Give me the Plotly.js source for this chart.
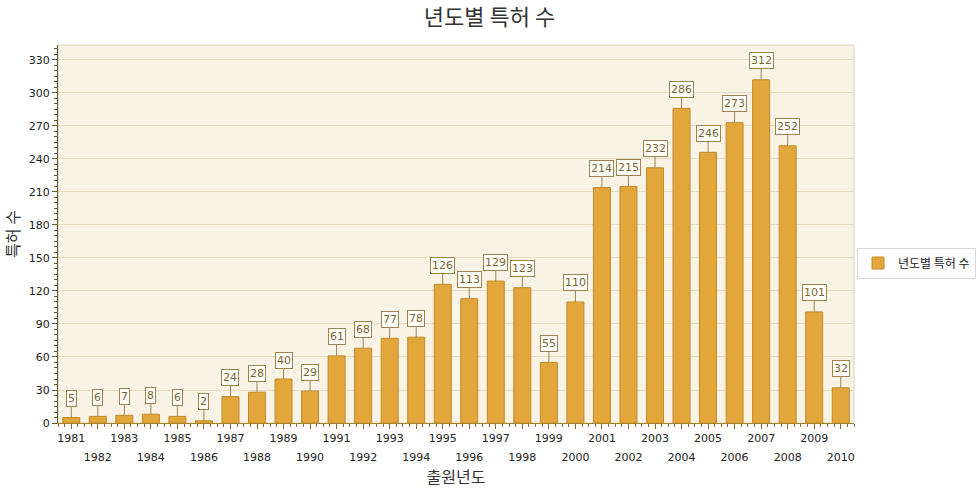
<!DOCTYPE html>
<html>
<head>
<meta charset="utf-8">
<script src="https://cdn.plot.ly/plotly-3.0.1.min.js"></script>
<style>html,body{margin:0;padding:0;background:#fff;}#chart{width:979px;height:493px;}</style>
</head>
<body>
<div id="chart"></div>
<script>
const years = [1981,1982,1983,1984,1985,1986,1987,1988,1989,1990,1991,1992,1993,1994,1995,1996,1997,1998,1999,2000,2001,2002,2003,2004,2005,2006,2007,2008,2009,2010];
const counts = [5,6,7,8,6,2,24,28,40,29,61,68,77,78,126,113,129,123,55,110,214,215,232,286,246,273,312,252,101,32];
const oddYears = years.filter((y, i) => i % 2 === 0);
const evenYears = years.filter((y, i) => i % 2 === 1);
const seriesName = '년도별 특허 수';

const FONT = 'Tahoma, "DejaVu Sans", "Noto Sans CJK KR", sans-serif';
const KFONT = '"Noto Sans CJK KR", "Liberation Sans", sans-serif';

const trace = {
  type: 'bar',
  x: years,
  y: counts,
  name: seriesName,
  width: 0.64,
  marker: {color: '#e2a63a', line: {color: '#c08a2c', width: 1}},
  hoverinfo: 'x+y'
};

// invisible helper trace so the second (even-year label) axis is drawn
const helper = {
  type: 'scatter', mode: 'none', x: years, y: counts,
  xaxis: 'x2', yaxis: 'y', showlegend: false, hoverinfo: 'skip'
};

const annotations = years.map((y, i) => ({
  x: y, y: counts[i], xref: 'x', yref: 'y',
  text: String(counts[i]),
  showarrow: true, arrowhead: 0, arrowwidth: 1, arrowcolor: '#9c8450',
  ax: 0, ay: -19,
  bgcolor: '#fffef8', bordercolor: '#9c8450', borderwidth: 1, borderpad: 1,
  font: {family: FONT, size: 11, color: '#7a6638'}
}));

const axCommon = {
  range: [1980.5, 2010.5],
  tickmode: 'array',
  tickangle: 0, automargin: false,
  ticks: 'outside', ticklen: 5, tickcolor: '#8a6a20',
  showgrid: false, zeroline: false,
  tickfont: {family: FONT, size: 11, color: '#222'}
};

const layout = {
  width: 979, height: 493,
  margin: {l: 58, r: 125, t: 45, b: 70, autoexpand: false},
  paper_bgcolor: '#ffffff',
  plot_bgcolor: '#f9f3e5',
  font: {family: FONT, size: 11, color: '#222'},
  title: {text: seriesName, x: 0.5, xanchor: 'center', y: 0.965, yanchor: 'middle',
          font: {family: KFONT, size: 22, color: '#333'}},
  xaxis: Object.assign({}, axCommon, {
    tickvals: oddYears, ticktext: oddYears.map(String),
    showline: true, linecolor: '#a88428', linewidth: 1,
    minor: {dtick: 0.25, tick0: 1980.5, ticks: 'outside', ticklen: 3, tickcolor: '#8a6a20', showgrid: false}
  }),
  xaxis2: Object.assign({}, axCommon, {
    overlaying: 'x', anchor: 'y', side: 'bottom',
    tickvals: evenYears, ticktext: evenYears.map(String),
    showline: false, ticklabelstandoff: 19,
    title: {text: '출원년도', font: {family: KFONT, size: 16, color: '#333'}, standoff: 6}
  }),
  yaxis: {
    range: [0, 343.6], automargin: false,
    tickmode: 'linear', tick0: 0, dtick: 30,
    ticks: 'outside', ticklen: 5, tickcolor: '#6a5a30',
    showline: true, linecolor: '#6a5a30', linewidth: 1,
    showgrid: true, gridcolor: '#e6dbc0', gridwidth: 1,
    zeroline: false,
    tickfont: {family: FONT, size: 11, color: '#222'},
    minor: {dtick: 5, ticks: 'outside', ticklen: 3, tickcolor: '#6a5a30', showgrid: false},
    title: {text: '특허 수', font: {family: KFONT, size: 16, color: '#333'}, standoff: 12}
  },
  shapes: [{type: 'rect', xref: 'paper', yref: 'paper', x0: 0, x1: 1, y0: 0, y1: 1,
            line: {color: '#e0d4b4', width: 1}, layer: 'below'}],
  showlegend: true,
  legend: {xref: 'container', yref: 'container', x: 0.8754, xanchor: 'left', y: 0.4665, yanchor: 'middle',
           bgcolor: '#ffffff', bordercolor: '#d8d8d8', borderwidth: 1, itemwidth: 30,
           font: {family: KFONT, size: 12, color: '#222'}},
  annotations: annotations
};

Plotly.newPlot('chart', [trace, helper], layout, {displayModeBar: false, responsive: false});
</script>
</body>
</html>
